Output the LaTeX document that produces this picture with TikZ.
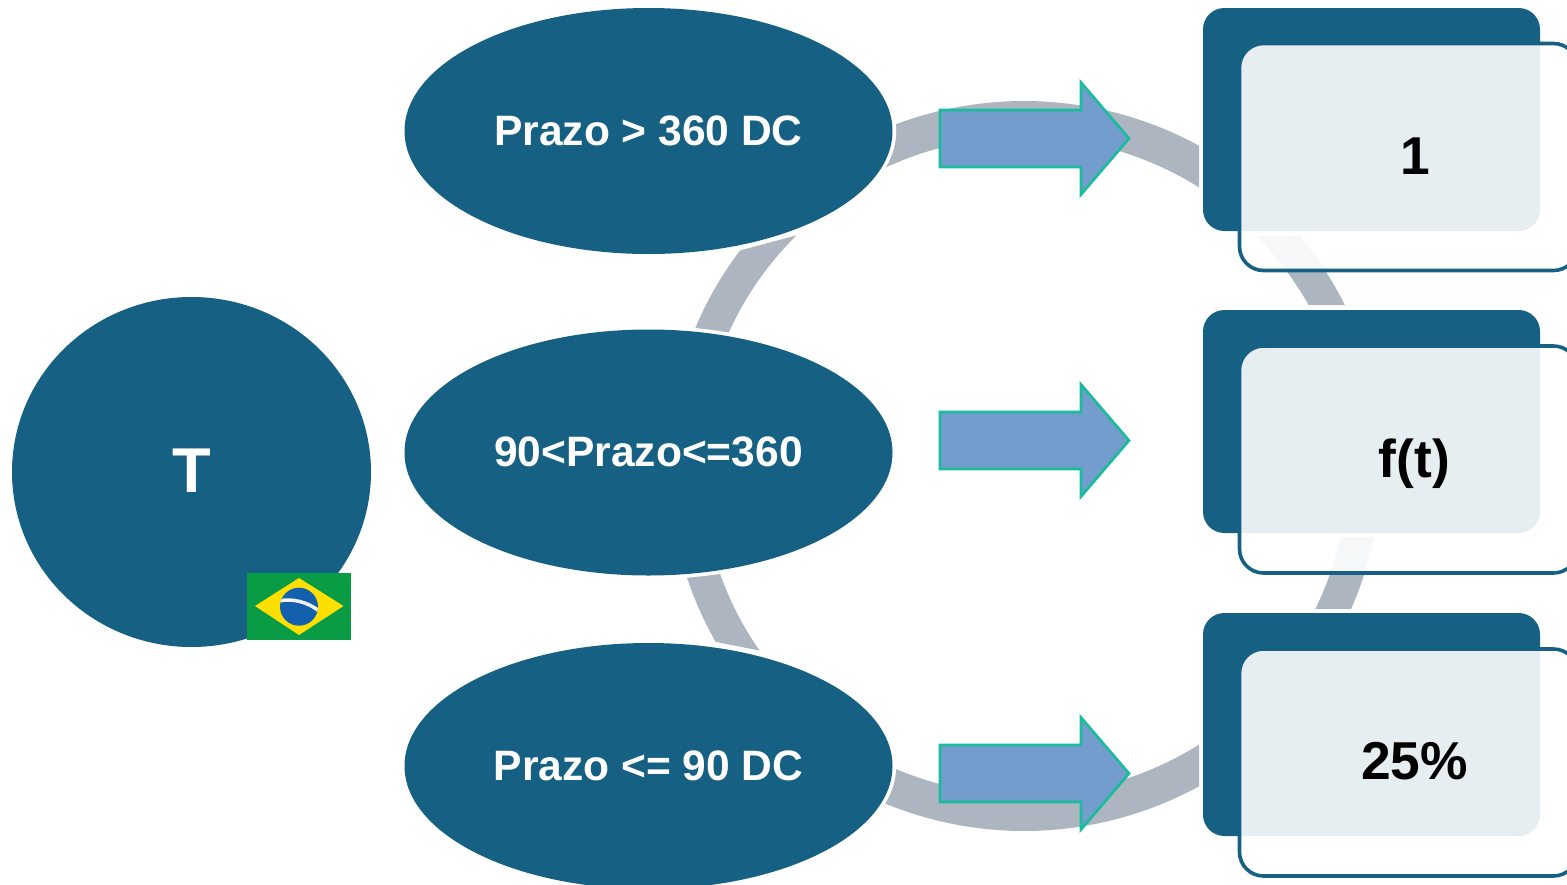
\documentclass[tikz,border=0pt]{standalone}
\usepackage{fontspec}
\setmainfont{Liberation Sans}
\usetikzlibrary{shapes.geometric}
\definecolor{teal1}{HTML}{166083}
\definecolor{band}{HTML}{ACB5C0}
\definecolor{arrowfill}{HTML}{729DCD}
\definecolor{arrowline}{HTML}{1ABC9C}
\definecolor{flaggreen}{HTML}{0A9C45}
\definecolor{flagyellow}{HTML}{FFDF00}
\definecolor{flagblue}{HTML}{1260AE}
\newcommand{\bandpiece}[6]{% outer r, start, end; inner r, start, end
  \fill[band] plot[domain=#2:#3,samples=40] ({1024+#1*cos(\x)},{466+#1*sin(\x)})
    -- plot[domain=#6:#5,samples=40] ({1024+#4*cos(\x)},{466+#4*sin(\x)}) -- cycle;}
\tikzset{
  x=0.75pt,y=-0.75pt,
  choice/.style={ellipse,fill=teal1,text=white,inner sep=0pt,outer sep=0pt,
    minimum width=488*0.75pt,minimum height=246*0.75pt,
    text height=28*0.75pt,text depth=0pt,
    font=\fontsize{31.9pt}{36pt}\selectfont\bfseries,
    preaction={draw=white,line width=5.5pt}},
  root/.style={ellipse,fill=teal1,text=white,inner sep=0pt,outer sep=0pt,
    minimum width=359*0.75pt,minimum height=350*0.75pt,
    text height=44*0.75pt,text depth=4*0.75pt,
    font=\fontsize{47.5pt}{50pt}\selectfont\bfseries},
  backbox/.style={rectangle,fill=teal1,rounded corners=16pt,inner sep=0pt,outer sep=0pt,
    minimum width=337*0.75pt,minimum height=223*0.75pt},
  frontbox/.style={rectangle,draw=teal1,line width=2.7pt,fill=white,fill opacity=0.895,
    rounded corners=18pt,inner sep=0pt,outer sep=0pt,
    minimum width=338*0.75pt,minimum height=227*0.75pt},
  value/.style={anchor=base,text=black,font=\fontsize{40pt}{44pt}\selectfont\bfseries,inner sep=0pt},
  blockarrow/.style={draw=arrowline,line width=2pt,fill=arrowfill,line join=miter}
}
\begin{document}
\begin{tikzpicture}
\clip (0,0) rectangle (1567,885);
% bands
\fill[band] plot[domain=-120:-61.3,samples=60] ({1024+365*cos(\x)},{466+365*sin(\x)})
  -- (1199,148) -- (1199,187) -- plot[domain=-57.9:-120,samples=60] ({1024+329*cos(\x)},{466+329*sin(\x)}) -- cycle;
\fill[band] plot[domain=120:61.3,samples=60] ({1024+365*cos(\x)},{466+365*sin(\x)})
  -- (1199,785) -- (1199,745) -- plot[domain=57.9:120,samples=60] ({1024+329*cos(\x)},{466+329*sin(\x)}) -- cycle;
\bandpiece{356.5}{-142.8}{-160}{324}{-134.6}{-160}
\bandpiece{355}{150.3}{165}{322.5}{145.1}{165}
\bandpiece{359}{-39.8}{-26.6}{327}{-44.6}{-29.5}
\bandpiece{357}{11.5}{23.6}{324.5}{12.7}{26.1}
% root
\node[root] (root) at (191.5,472) {T};
% flag
\fill[flaggreen] (247,573) rectangle (351,640);
\fill[flagyellow] (255,606) -- (299,578) -- (343.5,606) -- (299,635) -- cycle;
\fill[flagblue] (299,606.7) circle[radius=19];
\begin{scope}
\clip (299,606.7) circle[radius=19];
\draw[white!90!gray,line width=2.6pt] (279,601) .. controls (292,598) and (308,602) .. (319,611);
\foreach \px/\py in {285,612/290,615/296,611/303,613/309,614/313,612/287,619/293,620/299,618/305,620/310,619/300,624/295,593/306,596/304,607/291,608}
  \fill[white] (\px,\py) circle[radius=0.7];
\end{scope}
% ellipses
\node[choice] (c1) at (648.5,131) {Prazo > 360 DC};
\node[choice] (c2) at (648.5,452.5) {90<Prazo<=360};
\node[choice] (c3) at (648.5,766) {Prazo <= 90 DC};
% arrows
\foreach \dy in {0,302,635}{
  \draw[blockarrow,yshift=-\dy*0.75pt] (940,110) -- (1081,110) -- (1081,82.5) -- (1129,138.5) -- (1081,194.5) -- (1081,167) -- (940,167) -- cycle;
}
% boxes
\node[backbox] (b1) at (1371.5,119.5) {};
\node[backbox] (b2) at (1371.5,421.5) {};
\node[backbox] (b3) at (1371.5,724.5) {};
\node[frontbox,anchor=north west] (f1) at (1239.5,43.5) {};
\node[frontbox,anchor=north west] (f2) at (1239.5,346) {};
\node[frontbox,anchor=north west] (f3) at (1239.5,649) {};
\node[value] (v1) at (1415,174) {1};
\node[value] (v2) at (1414.5,477) {f(t)};
\node[value] (v3) at (1414.5,779) {25\%};
\end{tikzpicture}
\end{document}
